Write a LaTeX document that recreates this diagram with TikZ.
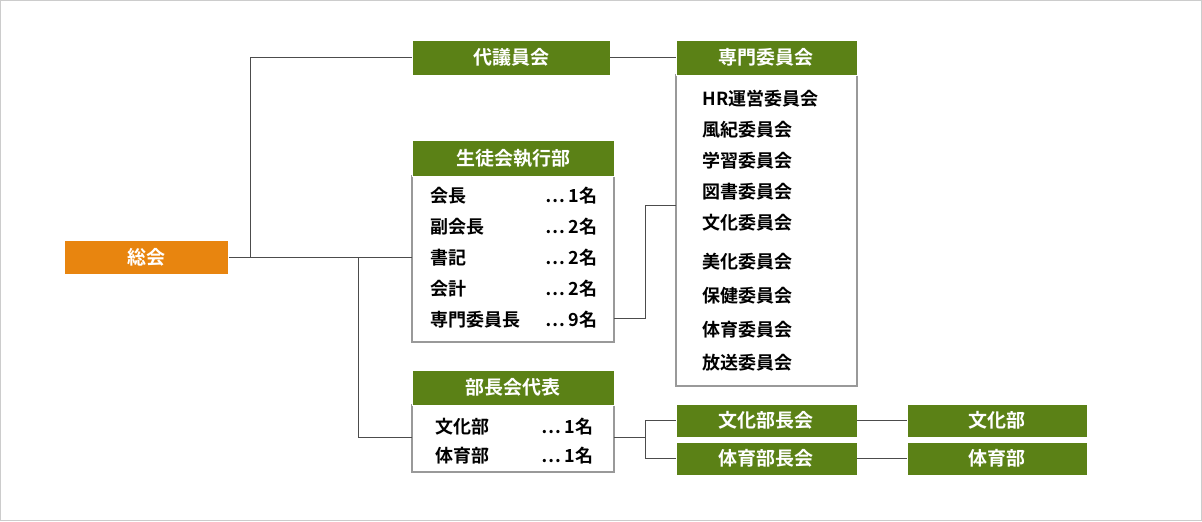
\documentclass[tikz,border=0pt]{standalone}
\usepackage{fontspec}
\setmainfont{Noto Sans CJK JP}[BoldFont={Noto Sans CJK JP Bold}]
\usetikzlibrary{positioning}
\definecolor{hdgreen}{HTML}{5B8116}
\definecolor{hdorange}{HTML}{E8850F}
\begin{document}
\begin{tikzpicture}[x=0.5pt,y=-0.5pt,
  head/.style={fill=hdgreen,draw=white,line width=0.4pt,text=white,font=\bfseries\fontsize{9.5}{10}\selectfont,inner sep=0pt},
  body/.style={fill=white,draw=gray!80,line width=0.6pt},
  item/.style={font=\bfseries\fontsize{9}{10}\selectfont,inner sep=0pt},
  link/.style={draw=gray!60!black,line width=0.5pt}]
\fill[color=white] (0,0) rectangle (1202,521);
\draw[color=gray!40,line width=0.6pt] (0.5,0.5) rectangle (1201.5,520.5);
% boxes
\node[head,fill=hdorange,minimum width=82pt,minimum height=17pt] (sokai) at (146.5,257) {総会};
\node[head,minimum width=99pt,minimum height=17.5pt] (daigi) at (511,57.5) {代議員会};
\draw[body] (676,75) rectangle (857,386);
\node[head,minimum width=90.5pt,minimum height=17.5pt] (senmon) at (766.5,57.5) {専門委員会};
\foreach \t/\y in {HR運営委員会/99,風紀委員会/130,学習委員会/161,図書委員会/192,文化委員会/223,美化委員会/262,保健委員会/296,体育委員会/330,放送委員会/363}
  \node[item,anchor=west] at (702,\y) {\t};
\draw[body] (412,176) rectangle (614,342);
\node[head,minimum width=101pt,minimum height=18pt] (shikko) at (513,158) {生徒会執行部};
\foreach \t/\n/\y in {会長/1/196,副会長/2/227,書記/2/258,会計/2/289,専門委員長/9/320}{
  \node[item,anchor=west] at (430,\y) {\t};
  \node[item,anchor=east] at (598,\y) {… \n 名};
}
\coordinate (shikkoR) at (614,318);
\draw[body] (412,405) rectangle (614,472);
\node[head,minimum width=101pt,minimum height=17.5pt] (bucho) at (513,387.5) {部長会代表};
\node[item,anchor=west] at (435,427) {文化部};
\node[item,anchor=east] at (594,427) {… 1名};
\node[item,anchor=west] at (435,456) {体育部};
\node[item,anchor=east] at (594,456) {… 1名};
\coordinate (buchoR) at (614,437);
\node[head,minimum width=90.5pt,minimum height=16.5pt] (bunkakai) at (766.5,420.5) {文化部長会};
\node[head,minimum width=90.5pt,minimum height=16.5pt] (taiikukai) at (766.5,458.5) {体育部長会};
\node[head,minimum width=90pt,minimum height=16.5pt] (bunka) at (997,420.5) {文化部};
\node[head,minimum width=90pt,minimum height=16.5pt] (taiiku) at (997,458.5) {体育部};
% connectors
\draw[link] (sokai.east) -| (250,57.5) -- (daigi.west);
\draw[link] (sokai.east) -- (shikko.west |- sokai.east);
\draw[link] (358,257) |- (412,437);
\draw[link] (daigi.east) -- (senmon.west);
\draw[link] (shikkoR) -| (645,205) -- (676,205);
\draw[link] (buchoR) -- (645,437);
\draw[link] (645,421) |- (bunkakai.west);
\draw[link] (645,421) |- (taiikukai.west);
\draw[link] (bunkakai.east) -- (bunka.west);
\draw[link] (taiikukai.east) -- (taiiku.west);
\end{tikzpicture}
\end{document}
